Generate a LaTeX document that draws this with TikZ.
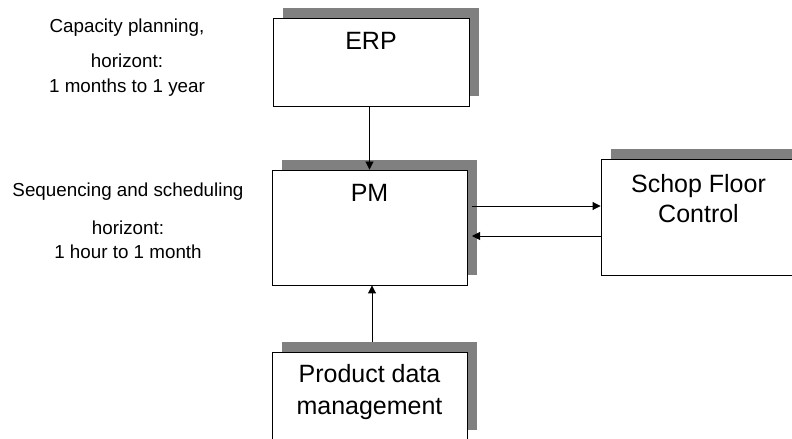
\documentclass[tikz,border=0pt]{standalone}
\usepackage{fontspec}
\setmainfont{Liberation Sans}
\usetikzlibrary{arrows.meta,shadows}
\definecolor{shadowgray}{HTML}{808080}
\begin{document}
\begin{tikzpicture}[x=1bp,y=-1bp,
  box/.style={draw=black, line width=0.9bp, fill=white, inner sep=0pt,
    general shadow={fill=shadowgray, shadow xshift=9.5bp, shadow yshift=9.5bp}},
  boxtext/.style={anchor=base, inner sep=0pt,
    font=\fontsize{25bp}{30bp}\selectfont},
  note/.style={anchor=base, inner sep=0pt,
    font=\fontsize{18.8bp}{24.5bp}\selectfont},
  arr/.style={draw=black, line width=0.9bp, -{Triangle[length=8bp,width=8bp]}}]
\path[use as bounding box, clip] (0,0) rectangle (792,439);

% blocks
\node[box, minimum width=196bp, minimum height=88bp]  (erp) at (371,62)    {};
\node[box, minimum width=195bp, minimum height=115bp] (pm)  at (369.5,227.5) {};
\node[box, minimum width=195bp, minimum height=116bp] (sfc) at (698.5,217) {};
\node[box, minimum width=195bp, minimum height=87bp]  (pdm) at (369.5,395.5) {};

% block captions, one node per line, placed on their baselines
\node[boxtext] (erpt)  at ([yshift=-32bp]erp.north) {ERP};
\node[boxtext] (pmt)   at ([yshift=-32bp]pm.north)  {PM};
\node[boxtext] (sfct1) at ([yshift=-34bp]sfc.north) {Schop Floor};
\node[boxtext] (sfct2) at ([yshift=-64bp]sfc.north) {Control};
\node[boxtext] (pdmt1) at ([yshift=-31bp]pdm.north) {Product data};
\node[boxtext] (pdmt2) at ([yshift=-63bp]pdm.north) {management};

% planning horizon notes
\node[note] (cap1) at (127,33) {Capacity planning,};
\node[note] (cap2) at (127,68) {horizont:};
\node[note] (cap3) at (127,93) {1 months to 1 year};
\node[note] (seq1) at (128,197) {Sequencing and scheduling};
\node[note] (seq2) at (128,235) {horizont:};
\node[note] (seq3) at (128,259) {1 hour to 1 month};

% connectors
\draw[arr] (erp.south -| pm.north) -- (pm.north);
\coordinate (pmout) at (472,206);
\coordinate (pmin)  at (472,236);
\draw[arr] (pmout) -- (pmout -| sfc.west);
\draw[arr] (pmin -| sfc.west) -- (pmin);
\coordinate (pdmout) at (372,342);
\draw[arr] (pdmout) -- (pdmout |- pm.south);
\end{tikzpicture}
\end{document}
